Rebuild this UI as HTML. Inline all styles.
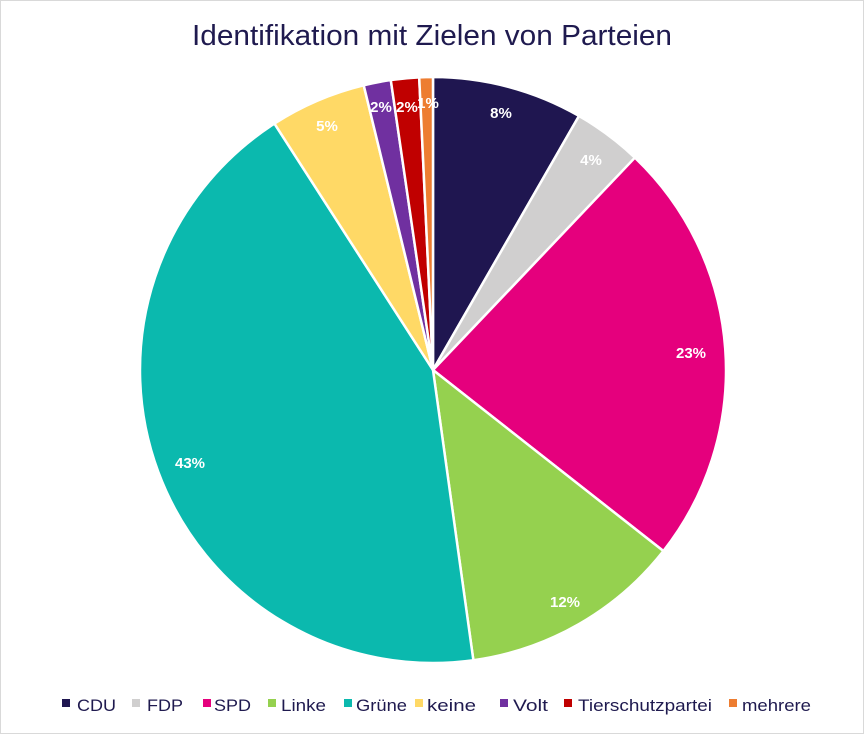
<!DOCTYPE html>
<html><head><meta charset="utf-8"><style>
body{margin:0;background:#fff}
svg{display:block;font-family:"Liberation Sans",sans-serif}
</style></head><body>
<svg id="s" width="864" height="734" viewBox="0 0 864 734">
<rect x="0.5" y="0.5" width="863" height="733" fill="#fff" stroke="#d9d9d9"/>
<text x="432" y="45" text-anchor="middle" font-size="29" fill="#1f1a4f" textLength="480" lengthAdjust="spacingAndGlyphs">Identifikation mit Zielen von Parteien</text>
<g id="pie"></g>
<g font-size="15" font-weight="bold" fill="#fff" text-anchor="middle">
<text x="501" y="118">8%</text>
<text x="591" y="165">4%</text>
<text x="691" y="358">23%</text>
<text x="565" y="607">12%</text>
<text x="190" y="468">43%</text>
<text x="327" y="131">5%</text>
<text x="381" y="112">2%</text>
<text x="407" y="112">2%</text>
<text x="428" y="108">1%</text>
</g>
<g font-size="17" fill="#1f1a4f">
<rect x="62" y="699" width="8" height="8" fill="#1f1650"/><text x="77" y="711" textLength="39" lengthAdjust="spacingAndGlyphs">CDU</text>
<rect x="132" y="699" width="8" height="8" fill="#d0cfcf"/><text x="147" y="711" textLength="36" lengthAdjust="spacingAndGlyphs">FDP</text>
<rect x="203" y="699" width="8" height="8" fill="#e5007d"/><text x="214" y="711" textLength="37" lengthAdjust="spacingAndGlyphs">SPD</text>
<rect x="268" y="699" width="8" height="8" fill="#95d14f"/><text x="281" y="711" textLength="45" lengthAdjust="spacingAndGlyphs">Linke</text>
<rect x="344" y="699" width="8" height="8" fill="#0bb9ae"/><text x="356" y="711" textLength="51" lengthAdjust="spacingAndGlyphs">Grüne</text>
<rect x="415" y="699" width="8" height="8" fill="#ffd966"/><text x="427" y="711" textLength="49" lengthAdjust="spacingAndGlyphs">keine</text>
<rect x="500" y="699" width="8" height="8" fill="#7030a0"/><text x="513" y="711" textLength="35" lengthAdjust="spacingAndGlyphs">Volt</text>
<rect x="564" y="699" width="8" height="8" fill="#c00000"/><text x="578" y="711" textLength="134" lengthAdjust="spacingAndGlyphs">Tierschutzpartei</text>
<rect x="729" y="699" width="8" height="8" fill="#ed7d31"/><text x="742" y="711" textLength="69" lengthAdjust="spacingAndGlyphs">mehrere</text>
</g>
</svg>
<script>
var cx=433,cy=370,r=293;
var d=[[8.3,"#1f1650"],[3.8,"#d0cfcf"],[23.5,"#e5007d"],[12.2,"#95d14f"],[43.1,"#0bb9ae"],[5.3,"#ffd966"],[1.5,"#7030a0"],[1.55,"#c00000"],[0.75,"#ed7d31"]];
var a=0,h="";
function pt(p){var t=p/100*2*Math.PI;return (cx+r*Math.sin(t)).toFixed(2)+","+(cy-r*Math.cos(t)).toFixed(2);}
d.forEach(function(s){var b=a+s[0];h+='<path d="M'+cx+','+cy+' L'+pt(a)+' A'+r+','+r+' 0 '+(s[0]>50?1:0)+',1 '+pt(b)+' Z" fill="'+s[1]+'" stroke="#fff" stroke-width="2.5" stroke-linejoin="round"/>';a=b;});
document.getElementById("pie").innerHTML=h;
</script>
</body></html>
